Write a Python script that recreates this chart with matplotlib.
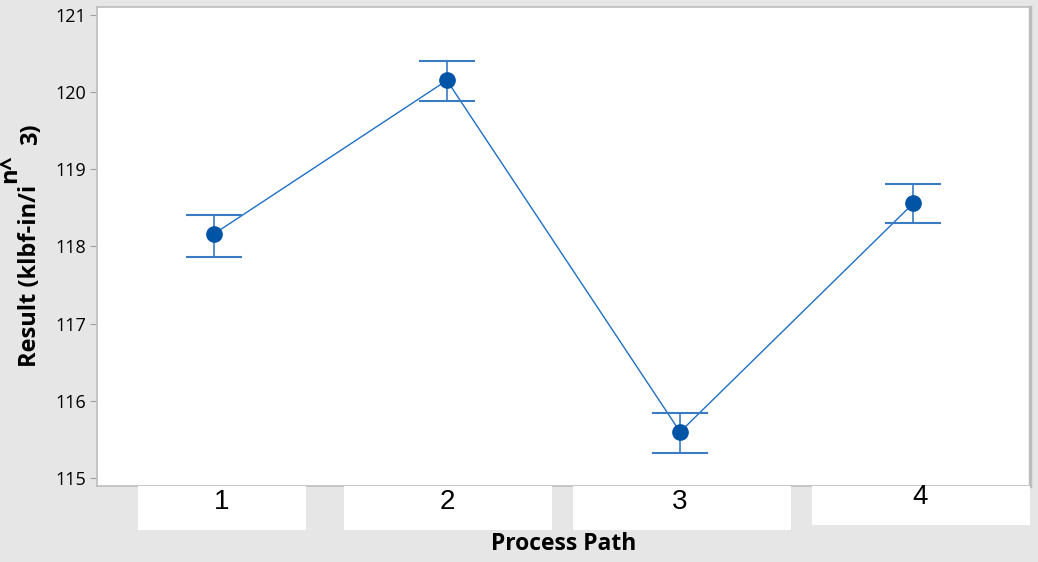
import matplotlib.pyplot as plt
from matplotlib.patches import Rectangle

paths = [1, 2, 3, 4]
path_labels = ['1', '2', '3', '4']
means = [118.16, 120.15, 115.60, 118.56]
upper = [118.41, 120.40, 115.85, 118.81]
lower = [117.87, 119.88, 115.33, 118.31]

err_lo = [m - l for m, l in zip(means, lower)]
err_hi = [u - m for m, u in zip(means, upper)]

W, H = 1038, 562
bg = '#e6e6e6'
fig = plt.figure(figsize=(W / 100, H / 100), dpi=100, facecolor=bg)
ax = fig.add_axes([97 / W, 1 - 486 / H, 933 / W, 479 / H])
ax.set_facecolor('white')

ax.plot(paths, means, color='#1f6fc4', linewidth=1, zorder=2)
ax.errorbar(paths, means, yerr=[err_lo, err_hi], fmt='none', ecolor='#3a7cc4',
            elinewidth=1.2, capsize=20, capthick=1.5, zorder=3)
ax.plot(paths, means, 'o', color='#0054a6', markersize=11, zorder=4)

ax.set_xlim(0.5, 4.5)
ax.set_ylim(114.9, 121.1)
ax.set_yticks([115, 116, 117, 118, 119, 120, 121])
ax.set_xticks([])
for t in ax.get_yticklabels():
    t.set_fontfamily('Open Sans')
    t.set_fontsize(13)
ax.tick_params(axis='y', length=5, color='#a0a0a0', pad=3)
for s in ax.spines.values():
    s.set_color('#bdbdbd')
    s.set_linewidth(1.2)
ax.spines['right'].set_linewidth(2.5)

# white label boxes under the axis (boxes are offset a bit, like the original)
boxes = [(138, 306, 530), (344, 552, 530), (573, 791, 530), (812, 1030, 525)]
nudge = [8, 0, 0, 7]
for (x0, x1, yb), lab in zip(boxes, path_labels):
    fig.patches.append(Rectangle((x0 / W, 1 - yb / H), (x1 - x0) / W, (yb - 486) / H,
                                 transform=fig.transFigure, facecolor='white',
                                 edgecolor='none', zorder=5))
for p, lab, dx in zip(paths, path_labels, nudge):
    x = ax.transData.transform((p, 0))[0] + dx
    yoff = 497 if p == 4 else 502
    fig.text(x / W, 1 - yoff / H, lab, ha='center', va='center',
             fontsize=20, family='Liberation Sans', zorder=6)

fig.text(564 / W, 1 - 544 / H, 'Process Path', ha='center', va='center',
         fontsize=16.5, fontweight='bold', family='Open Sans')

# y label in three pieces (as in reference)
fig.text(30 / W, 1 - 276 / H, 'Result (klbf-in/i', rotation=90, ha='center',
         va='center', fontsize=17, fontweight='bold', family='Open Sans')
fig.text(10 / W, 1 - 169 / H, 'n^', rotation=90, ha='center', va='center',
         fontsize=17, fontweight='bold', family='Open Sans')
fig.text(31 / W, 1 - 134 / H, '3)', rotation=90, ha='center', va='center',
         fontsize=17, fontweight='bold', family='Open Sans')

fig.savefig('out.png', dpi=100, facecolor=bg)
